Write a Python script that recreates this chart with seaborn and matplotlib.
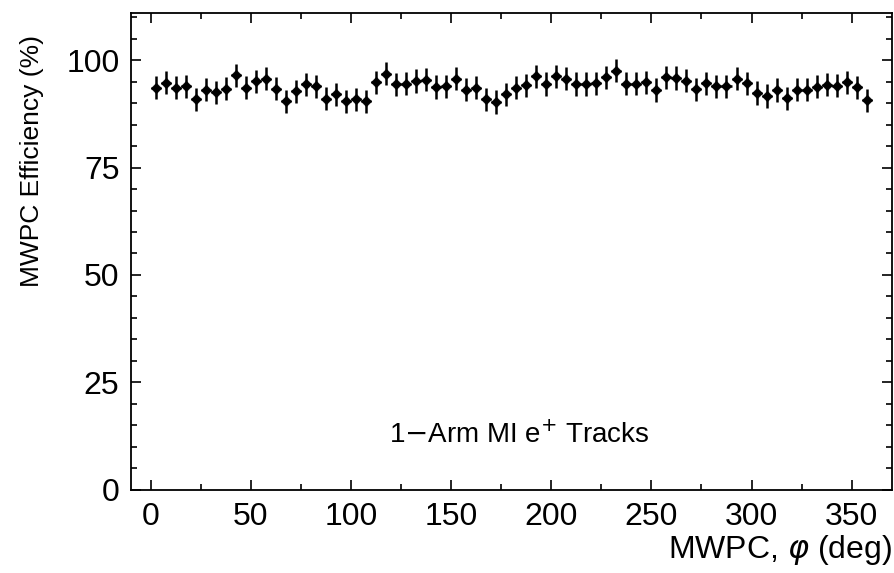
import numpy as np
import pandas as pd
import matplotlib
matplotlib.use("Agg")
import matplotlib.pyplot as plt
from matplotlib.ticker import MultipleLocator
import seaborn as sns

# Bin centres (deg) and measured efficiencies (%)
phi = [2.5 + 5 * i for i in range(72)]
efficiency = [
    93.6, 94.8, 93.6, 94.0, 90.9, 93.2, 92.6, 93.4, 96.5, 93.6, 95.1, 95.7,
    93.4, 90.5, 92.8, 94.4, 94.0, 91.1, 92.1, 90.5, 90.9, 90.5, 94.9, 96.9,
    94.4, 94.6, 95.2, 95.5, 93.8, 94.0, 95.7, 93.2, 93.6, 90.9, 90.3, 92.1,
    93.6, 94.2, 96.3, 94.5, 96.3, 95.7, 94.5, 94.5, 94.7, 96.1, 97.6, 94.6,
    94.6, 94.9, 93.1, 96.1, 95.9, 95.3, 93.3, 94.7, 94.0, 94.0, 95.7, 94.7,
    92.4, 91.7, 93.1, 91.2, 93.2, 93.2, 93.9, 94.3, 94.1, 94.9, 93.7, 90.7,
]
eff_err = 2.7      # vertical error (%)
bin_half = 2.5     # half bin width (deg)

df = pd.DataFrame({"phi": phi, "eff": efficiency})

sns.set_style("ticks")
plt.rcParams["font.family"] = ["Liberation Sans", "DejaVu Sans"]
plt.rcParams["text.color"] = "black"
plt.rcParams["axes.labelcolor"] = "black"

fig = plt.figure(figsize=(8.94, 5.73), dpi=100)
ax = fig.add_axes([0.146, 0.1457, 0.8515, 0.8313])

ax.errorbar(df["phi"], df["eff"], yerr=eff_err, xerr=bin_half, fmt="none",
            ecolor="black", elinewidth=1.8, capsize=0)
sns.scatterplot(data=df, x="phi", y="eff", ax=ax, marker="D", s=28,
                color="black", edgecolor="black", linewidth=0.5, zorder=3)

ax.set_xlim(-10, 370)
ax.set_ylim(0, 111)
ax.xaxis.set_major_locator(MultipleLocator(50))
ax.xaxis.set_minor_locator(MultipleLocator(25))
ax.yaxis.set_major_locator(MultipleLocator(25))
ax.yaxis.set_minor_locator(MultipleLocator(5))
ax.tick_params(which="both", direction="in", top=True, right=True,
               labelsize=23, width=1.2, colors="black")
ax.tick_params(which="major", length=7)
ax.tick_params(which="minor", length=4)
ax.tick_params(axis="x", pad=9)
ax.tick_params(axis="y", pad=8)
for sp in ax.spines.values():
    sp.set_visible(True)
    sp.set_linewidth(1.3)
    sp.set_color("black")

ax.set_xlabel(r"MWPC, $\varphi$ (deg)", fontsize=23)
ax.xaxis.set_label_coords(1.0, -0.128)
ax.xaxis.label.set_horizontalalignment("right")
ax.xaxis.label.set_verticalalignment("center")
ax.set_ylabel("MWPC Efficiency (%)", fontsize=19)
ax.yaxis.set_label_coords(-0.13, 0.69)
ax.yaxis.label.set_verticalalignment("center")

ax.text(0.511, 0.115, r"1$-$Arm MI e$^{+}$ Tracks", transform=ax.transAxes,
        ha="center", va="center", fontsize=20)

fig.savefig("out.png", dpi=100)
